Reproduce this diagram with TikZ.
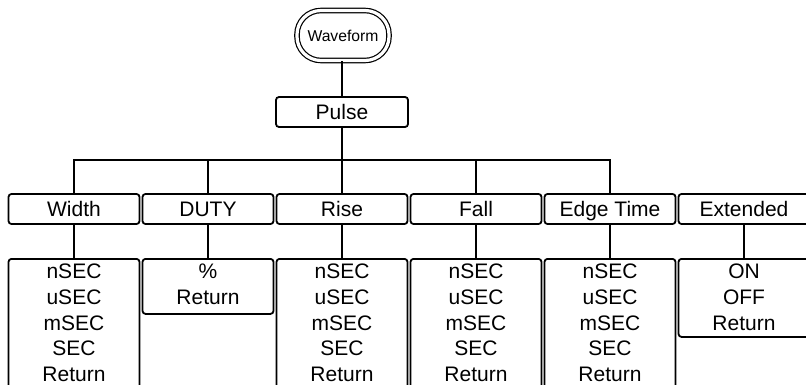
\documentclass[tikz,border=0pt]{standalone}
\usepackage{fontspec}
\setmainfont{Liberation Sans}
\begin{document}
\begin{tikzpicture}[x=1pt,y=-1pt,
  lbox/.style={draw, line width=1.8pt, rounded corners=3pt, minimum width=131pt, minimum height=30pt, inner sep=0pt, text height=15pt, text depth=0pt, font=\fontsize{21}{25.7}\selectfont},
  sbox/.style={draw, line width=1.8pt, rounded corners=3pt, minimum width=131pt, anchor=north, inner sep=0pt},
  stxt/.style={anchor=north, inner sep=0pt, align=center, font=\fontsize{21}{25.7}\selectfont},
  wline/.style={line width=2pt}
]
\useasboundingbox (0,0) rectangle (806,385);
\clip (0,0) rectangle (806,385);
% root
\node[draw, double, double distance=3.2pt, line width=1.2pt, rounded corners=24pt, minimum width=92pt, minimum height=50pt, inner sep=0pt, font=\fontsize{15.7}{18}\selectfont] (wave) at (343,35.5) {Waveform};
\node[lbox, minimum width=132pt] (pulse) at (342,112) {Pulse};
% level 1
\node[lbox] (width) at (74,209) {Width};
\node[lbox] (duty) at (208,209) {DUTY};
\node[lbox] (rise) at (342,209) {Rise};
\node[lbox] (fall) at (476,209) {Fall};
\node[lbox] (edge) at (610,209) {Edge Time};
\node[lbox] (ext) at (744,209) {Extended};
% level 2 boxes
\node[sbox, minimum height=150pt] (width2) at (74,258) {};
\node[sbox, minimum height=55pt] (duty2) at (208,258) {};
\node[sbox, minimum height=150pt] (rise2) at (342,258) {};
\node[sbox, minimum height=150pt] (fall2) at (476,258) {};
\node[sbox, minimum height=150pt] (edge2) at (610,258) {};
\node[sbox, minimum height=78pt] (ext2) at (744,258) {};
% level 2 texts
\node[stxt] (width2t) at (74,264) {nSEC\\uSEC\\mSEC\\SEC\\Return};
\node[stxt] (duty2t) at (208,264) {\%\\Return};
\node[stxt] (rise2t) at (342,264) {nSEC\\uSEC\\mSEC\\SEC\\Return};
\node[stxt] (fall2t) at (476,264) {nSEC\\uSEC\\mSEC\\SEC\\Return};
\node[stxt] (edge2t) at (610,264) {nSEC\\uSEC\\mSEC\\SEC\\Return};
\node[stxt] (ext2t) at (744,264) {ON\\OFF\\Return};
% connectors
\coordinate (bus) at (342,160);
\draw[wline] (pulse.north |- wave.south) -- (pulse.north);
\draw[wline] (pulse.south) -- (pulse.south |- bus);
\draw[wline] (width.north) |- (edge.north |- bus) -- (edge.north);
\draw[wline] (duty.north) -- (duty.north |- bus);
\draw[wline] (rise.north) -- (rise.north |- bus);
\draw[wline] (fall.north) -- (fall.north |- bus);
\draw[wline] (width.south) -- (width2.north);
\draw[wline] (duty.south) -- (duty2.north);
\draw[wline] (rise.south) -- (rise2.north);
\draw[wline] (fall.south) -- (fall2.north);
\draw[wline] (edge.south) -- (edge2.north);
\draw[wline] (ext.south) -- (ext2.north);
\end{tikzpicture}
\end{document}
